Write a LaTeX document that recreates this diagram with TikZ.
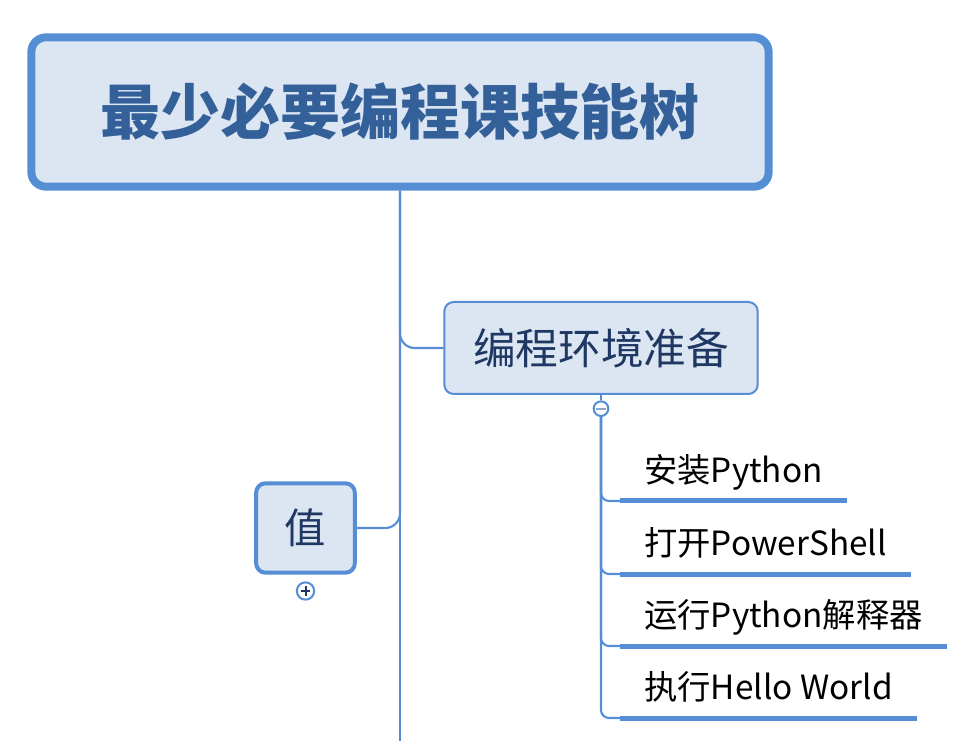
\documentclass[tikz,border=0pt]{standalone}
\usepackage{fontspec}
\setmainfont{Noto Sans CJK SC}
\usepackage{xcolor}
\usetikzlibrary{positioning}
\definecolor{frame}{HTML}{558ED5}
\definecolor{boxbg}{HTML}{DCE6F2}
\definecolor{titletxt}{HTML}{34609A}
\definecolor{navy}{HTML}{1F3763}
\definecolor{signgray}{HTML}{8FA6CC}

\begin{document}
\begin{tikzpicture}[
    x=0.75pt, y=-0.75pt,
    root/.style={draw=frame, line width=6pt, fill=boxbg, rounded corners=11pt, minimum width=553pt, minimum height=112pt, font=\fontsize{45}{50}\selectfont\bfseries, text=titletxt},
    topic/.style={draw=frame, line width=1.5pt, fill=boxbg, rounded corners=7pt, minimum width=235pt, minimum height=69pt, font=\fontsize{32}{36}\selectfont, text=navy},
    side/.style={topic, line width=3pt, minimum width=74pt, minimum height=67pt, font=\fontsize{31}{34}\selectfont},
    leaf/.style={anchor=south west, inner xsep=18pt, inner ysep=8pt, text depth=6pt, font=\fontsize{25}{29}\selectfont},
    ul/.style={draw=frame, line width=3.75pt},
    trunk/.style={draw=frame, line width=2.2pt},
    link/.style={draw=frame, line width=1.6pt, rounded corners=8pt},
    toggle/.style={circle, draw=frame, line width=1.5pt, fill=white, inner sep=0pt, minimum size=11pt}
]
    \useasboundingbox (0,0) rectangle (968,741);

    % Root and main topics
    \node[root] (root) at (400,112) {最少必要编程课技能树};
    \node[topic] (env) at (601,348) {编程环境准备};
    \node[side] (val) at (305.5,528) {值};

    % Fold markers
    \node[toggle, below=4pt of env, path picture={\draw[signgray, line width=1.4pt] ([xshift=-3.5pt]path picture bounding box.center) -- ([xshift=3.5pt]path picture bounding box.center);}] (minus) {};
    \node[toggle, minimum size=13pt, below=5pt of val, path picture={\draw[navy, line width=1.5pt] ([xshift=-3.5pt]path picture bounding box.center) -- ([xshift=3.5pt]path picture bounding box.center) ([yshift=-3.5pt]path picture bounding box.center) -- ([yshift=3.5pt]path picture bounding box.center);}] (plus) {};

    % Leaves under the environment topic
    \node[leaf] (l1) at (620,501) {安装Python};
    \node[leaf] (l2) at (620,574) {打开PowerShell};
    \node[leaf] (l3) at (620,646) {运行Python解释器};
    \node[leaf] (l4) at (620,718) {执行Hello World};
    \draw[ul] (l1.south west) -- (l1.south east);
    \draw[ul] (l2.south west) -- (l2.south east);
    \draw[ul] (l3.south west) -- (l3.south east);
    \draw[ul] (l4.south west) -- (l4.south east);

    % Connections
    \coordinate (trunkend) at (400,741);
    \draw[trunk] (root.south) -- (trunkend);
    \draw[link, rounded corners=11pt] (root.south) |- (env.west);
    \draw[link, rounded corners=11pt] (val.east) -| (root.south);
    \draw[link] (env.south) -- (minus.north);
    \draw[link, rounded corners=6pt] (minus.south) |- (l1.south west);
    \draw[link, rounded corners=6pt] (minus.south) |- (l2.south west);
    \draw[link, rounded corners=6pt] (minus.south) |- (l3.south west);
    \draw[link, rounded corners=6pt] (minus.south) |- (l4.south west);
\end{tikzpicture}
\end{document}
